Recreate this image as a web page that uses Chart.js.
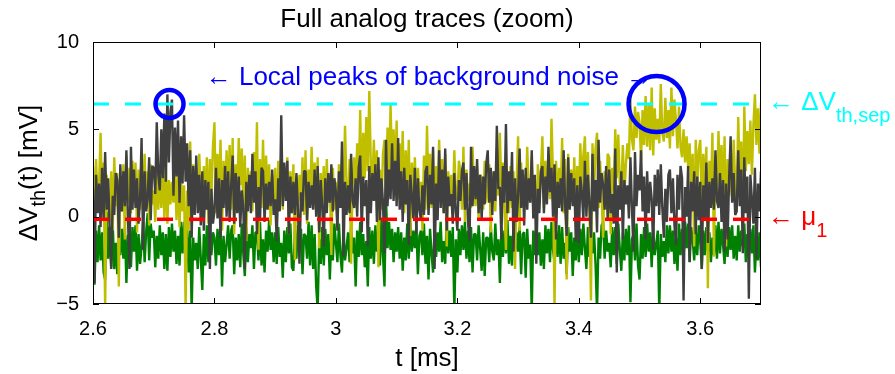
<!DOCTYPE html>
<html>
<head>
<meta charset="utf-8">
<title>Full analog traces (zoom)</title>
<script src="https://cdn.jsdelivr.net/npm/chart.js@4.4.1/dist/chart.umd.min.js"></script>
<style>
  html, body { margin: 0; padding: 0; background: #fff; }
  canvas { display: block; }
</style>
</head>
<body>
<canvas id="myChart" width="895" height="374"></canvas>
<script>
// sampled threshold traces, one value every 2.5 us starting at 2.6 ms
const tStart = 2.6;
const dt = 0.0025;

const greenTrace = [
  -1.8, -3.9, -0.8, -2.6, -0.5, -2.5, -0.9, -3.2, -3.6, 0.3, -2.4, -0.6, -2.9, -0.4, -3.0, -1.5, -3.3, 0.0, -2.2, -0.7,
  -2.4, -0.6, -3.8, -1.1, -1.0, -2.9, -0.6, -2.0, -0.5, -3.1, -1.0, -2.7, -1.7, -0.3, -2.6, -0.9, 0.2, -2.5, -0.4, -1.2,
  -0.8, -2.9, -1.1, -2.4, -0.5, -2.2, -0.9, -3.0, -1.0, -3.1, -0.6, -2.3, -0.4, -2.0, -0.8, -2.7, -1.1, -2.8, -0.3, -2.1,
  -0.3, -1.9, -0.7, -3.2, -0.8, -5.4, -1.2, -2.5, -1.5, -3.0, -0.6, -2.4, -4.2, -1.0, -2.8, -0.5, -2.6, -0.7, -2.2, -0.9,
  -1.2, -2.8, -0.7, -2.2, -0.4, -4.0, -1.1, -2.6, -1.6, -0.5, -2.4, -0.8, -0.5, -3.3, -1.2, -2.5, -1.0, -2.9, -0.4, -2.1,
  -3.4, -0.6, -2.6, -1.0, -1.8, -0.5, -3.0, -0.9, -0.9, -2.5, -0.3, -2.8, -1.3, -3.2, -0.8, -2.0, -0.2, -1.9, -0.9, -2.6,
  -0.9, -2.7, -0.6, -2.3, -1.5, -3.5, -0.8, -2.6, -0.6, -2.1, -0.4, -2.9, -3.1, -0.8, -2.4, -0.5, -1.9, -0.7, -3.3, -1.0,
  -1.1, -2.4, -0.3, -2.8, -0.5, -3.0, -1.0, -4.0, -5.3, -1.3, -2.7, -0.6, -2.8, -0.7, -2.2, -1.0, -3.6, -1.0, -2.5, -0.4,
  -1.5, -2.6, -0.4, -2.2, -3.2, -0.7, -2.5, -1.8, -0.9, -2.6, -0.5, -2.1, -1.2, -4.0, -0.8, -2.3, -0.3, -2.2, -1.0, -2.9,
  -1.4, -4.0, -0.6, -2.4, -0.8, -2.7, -0.5, -2.0, -1.6, -2.8, -0.1, -2.2, -4.0, 1.1, -1.8, -0.3, -1.9, -0.7, -2.6, -0.9,
  -2.0, -0.6, -2.4, -0.9, -3.1, -1.2, -2.5, -0.4, -2.4, -0.3, -2.0, -0.8, -1.8, -0.5, -3.3, -1.1, -0.8, -2.2, -0.4, -2.7,
  -1.1, -3.6, -0.7, -2.1, -3.2, -0.5, -2.3, -0.9, -2.0, -0.3, -2.6, -1.4, -2.7, -0.2, -2.1, -0.8, -2.3, -0.6, -5.4, -1.3,
  -3.2, -0.7, -2.2, -0.5, -1.9, -0.3, -2.4, -0.8, -2.6, -0.6, -3.2, -1.0, -1.0, -2.5, -0.5, -1.8, -3.1, -0.9, -3.4, -1.2,
  -1.2, -2.6, -0.5, -2.0, -2.5, -0.4, -2.2, -1.3, -3.8, -0.6, -2.3, -0.8, -2.1, -0.2, -2.7, -1.1, -2.8, -0.4, -2.0, -0.9,
  -2.0, -0.6, -3.3, -1.0, -0.9, -3.5, -0.7, -2.4, -1.6, -5.4, -0.8, -2.2, -0.4, -2.2, -0.9, -2.8, -1.3, -3.0, -0.5, -2.1,
  -0.7, -2.6, -0.3, -1.9, -2.6, -0.8, -2.3, -0.5, -2.7, -0.6, -2.4, -1.5, -3.3, -0.6, -2.0, -0.9, -3.4, -1.2, -2.5, -0.7,
  -2.6, -0.7, -2.2, -0.4, -1.8, -3.0, -0.6, -2.3, -0.5, -2.1, -0.9, -2.7, -5.4, -1.2, -2.4, -0.5, -0.3, -2.4, -0.8, -2.0,
  -1.5, -2.9, -0.6, -2.2, -0.6, -2.7, -0.4, -1.9, -3.1, -0.9, -2.5, -0.7, -2.2, -0.5, -4.9, -1.3, -1.0, -2.5, -0.4, -2.8,
  -3.6, -1.0, -2.4, -0.6, -2.3, -0.4, -2.0, -0.9, -2.9, -0.7, -2.2, -1.6, -0.8, -5.4, -1.0, -2.3, -1.4, -2.6, -0.5, -2.1,
  -0.5, -2.0, -0.8, -2.7, -1.2, -3.1, -0.4, -2.2, -0.7, -2.4, -0.3, -1.8, -0.4, -2.6, -0.6, -1.3, -2.5, -0.9, -2.2, -0.5,
  -1.4, -3.0, -0.8, -2.2, -0.6, -2.0, -0.9, -2.6, -1.2, -2.2, -0.5, -2.4, -0.3, -2.1, -0.7, -1.6, -2.7, -0.8, -2.3, -0.6,
  -1.9, -0.5, -2.4, -1.1, -2.5, -0.5, -2.0, -0.8, -1.7, -0.4, -2.6, -1.0, -2.3, -0.7, -2.1, -0.5, -3.2, -1.3, -2.5, -0.9,
  -2.9
];

const yellowTrace = [
  2.9, 0.5, 3.3, 1.0, 1.8, 4.8, 0.7, 3.1, -5.3, 2.4, 1.2, -0.3, 2.6, -0.8, 3.4, 0.6, 2.5, -4.0, 2.2, 0.3,
  3.0, -1.3, 3.5, 0.8, 2.8, 0.2, 3.2, 0.9, 3.1, -0.9, 2.7, 0.4, 2.4, 1.0, 3.6, 0.5, 2.6, -0.5, 3.0, 0.7,
  1.5, -0.3, 2.6, 0.4, 2.3, 0.5, 2.9, -0.1, 2.8, -0.4, 2.1, 0.7, 2.0, 0.8, 2.7, -0.2, 2.5, -0.6, 2.2, 0.3,
  1.8, -5.3, 1.5, -0.8, 4.3, 0.4, 3.0, 1.1, 2.2, 0.6, 3.6, 1.2, 0.3, 2.9, 0.8, 3.4, -0.4, 3.3, 1.1, 4.0,
  5.4, 0.2, 3.6, 1.3, 4.4, -0.8, 3.2, 0.9, 3.8, 1.0, 4.1, 0.4, 4.5, -1.0, 3.0, 1.2, 4.5, 1.8, 3.9, 0.6,
  3.5, -1.4, 2.8, 0.8, 2.6, 0.3, 3.7, 1.0, 5.4, -1.9, 3.3, 0.5, 4.4, 0.6, 3.5, 1.4, 3.0, -0.5, 2.4, 0.9,
  2.8, -0.5, 3.2, 0.7, 3.6, 0.4, 2.9, 1.1, 3.4, -1.0, 2.6, 0.2, 3.0, -2.5, 2.3, 0.5, 2.4, 0.9, 3.4, 0.1,
  3.8, -0.4, 2.7, 1.0, 4.0, 1.0, 3.1, 0.3, 3.4, -1.8, 2.5, 0.6, 2.9, 0.3, 3.3, 0.8, 2.2, -2.2, 2.8, 0.4,
  2.0, -0.6, 3.0, 0.9, 3.1, 1.4, 5.2, 1.8, 0.3, 3.3, -2.7, 2.0, 3.4, 1.1, 4.2, 1.9, 6.1, 0.5, 4.8, 2.2,
  5.7, 2.6, 7.2, 3.0, 1.6, 4.4, 1.2, 3.8, -2.9, 2.7, 0.4, 3.6, 4.4, 1.0, 5.1, 2.4, 6.4, 2.8, 5.0, 1.9,
  5.5, 1.0, 4.2, 2.0, 4.9, 0.2, 3.8, 1.2, 4.4, -1.1, 3.1, 0.9, 3.4, 0.6, 2.8, 1.3, 2.0, -0.8, 3.5, 0.4,
  5.2, 1.3, 3.6, 0.5, 3.8, -0.6, 2.9, 1.0, 4.4, 0.9, 3.3, 0.2, 3.6, -1.7, 2.6, 0.8, 2.4, 0.6, 3.8, 1.1,
  1.0, 3.2, 2.6, 0.4, 4.0, -0.3, 2.7, 0.9, 1.9, 0.5, 4.0, 1.3, 0.6, 2.9, -0.2, 2.4, 2.2, 0.4, 3.2, 0.8,
  1.4, 3.0, -0.9, 2.2, 2.6, 0.3, 3.1, 1.2, 4.8, 1.5, 3.1, 0.6, -1.9, 2.3, 0.2, 2.9, 0.5, 2.6, -3.0, 1.8,
  4.6, -0.8, 3.1, 0.9, 2.4, 0.6, 4.0, 1.5, 0.8, 3.4, 0.3, 2.2, -1.1, 3.0, 0.7, 2.5, 4.6, 0.5, 3.2, 1.2,
  2.8, 1.0, 5.6, 2.3, -5.3, 3.2, 0.6, 2.8, 1.0, 4.5, 0.2, 3.3, -3.6, 3.6, 0.9, 2.7, 0.7, 3.4, 0.4, 2.9,
  0.8, 4.2, 1.6, 3.5, 4.6, 1.0, 3.7, 0.3, -4.8, 4.2, 1.3, 3.9, 4.8, 0.5, 3.2, 1.1, -1.2, 2.6, 0.4, 3.6,
  3.4, -1.0, 2.8, 1.5, 5.0, 2.2, 4.7, 1.9, 1.6, 4.1, 1.2, 3.0, 4.2, 3.3, 6.9, 4.4, 3.8, 6.3, 4.5, 6.0,
  5.4, 3.2, 6.1, 4.1, 6.9, 4.0, 6.5, 3.8, 7.4, 3.5, 6.2, 4.4, 5.6, 4.2, 7.6, 4.8, 4.3, 6.8, 4.5, 6.1,
  3.9, 7.4, 4.6, 6.7, 5.5, 3.9, 6.3, 4.0, 3.4, 5.0, 3.1, 4.6, 2.8, 4.2, 1.4, 3.6, -1.7, 4.4, 1.6, 3.8,
  4.4, 0.8, 3.6, 1.5, 4.0, -4.1, 3.2, 0.9, 4.8, -2.3, 3.5, 1.1, 4.9, 1.6, 4.1, 0.7, 4.6, -1.7, 3.3, 1.2,
  3.4, 1.0, 4.4, 1.9, 0.9, 5.7, 2.1, 4.3, -1.3, 6.3, 2.6, 4.9, 3.0, 5.5, 2.4, 5.2, 7.0, 4.1, 6.2, 3.6,
  6.5
];

const grayTrace = [
  1.6, -3.8, 2.4, 0.2, 1.9, -0.6, 2.8, -0.2, 3.7, 0.4, 2.2, -0.8, -3.0, 1.2, 0.1, 2.5, 2.1, -1.2, 3.0, 0.3,
  2.6, 0.6, 3.8, 0.0, -3.0, 4.0, 0.4, 2.7, 0.5, 2.2, -0.4, 1.0, 4.5, -1.9, 2.6, 0.3, 1.0, 3.4, -0.2, 2.9,
  2.8, 1.3, 5.4, 2.4, 1.5, 5.0, 2.2, 5.9, 2.0, 7.0, 3.1, 6.0, 6.7, 1.2, 5.1, 2.3, 5.5, 0.8, 4.6, 1.9,
  5.8, 2.0, 4.2, 0.6, 3.8, -1.2, 2.9, 0.1, 3.5, 0.2, 2.4, -0.5, 2.6, -0.8, 2.1, 0.4, 2.0, -3.0, 1.6, -0.4,
  0.3, 2.8, -0.1, 2.2, -1.2, 2.1, 0.5, 2.9, 0.0, 2.6, -0.3, 1.8, 3.5, -0.4, 2.5, 0.2, 2.3, -0.6, 1.5, 0.5,
  -3.0, 2.0, 0.3, 2.4, 0.2, 3.6, 0.8, 2.6, -1.0, 1.7, -0.2, 2.8, 2.6, -0.3, 1.9, 0.4, 2.0, 0.6, 2.7, 0.1,
  1.0, -1.4, 2.2, 0.3, 5.8, 0.6, 3.1, 0.9, 3.2, -1.0, 2.3, 0.2, 2.0, 0.1, 2.5, 0.4, -2.7, 1.4, 0.3, 2.6,
  2.6, -0.2, 2.0, 0.5, 1.8, 0.4, 2.7, 0.0, 2.9, -0.9, 2.1, 0.6, -1.7, 2.2, 0.2, 2.5, 0.8, 3.0, 0.3, 2.2,
  1.4, -0.8, 2.6, 0.5, 4.3, -2.3, 2.0, 0.1, 1.8, 0.2, 3.6, 0.9, 0.5, 2.2, 0.0, 2.8, 3.5, -0.9, 2.3, 0.6,
  2.1, -1.7, 2.9, 0.2, 2.5, 0.9, 3.0, -0.3, 3.4, -0.2, 2.2, 0.8, -2.1, 4.4, 0.6, 2.7, 1.0, 4.2, 0.9, 3.2,
  0.6, 4.5, 0.4, 2.6, -0.3, 2.8, 0.7, 2.1, -1.6, 2.4, 1.2, -0.1, 2.8, -1.0, 2.2, 0.4, -0.2, 1.8, 0.1, 2.6,
  2.9, 0.1, 2.4, 0.7, 4.0, -3.0, 1.9, -0.2, 3.8, 0.5, 2.7, 0.2, 3.9, -0.8, 2.3, 0.6, 1.3, -0.4, 2.5, 0.3,
  -0.8, 2.1, 0.9, 2.6, 3.1, 0.4, 2.5, -0.3, -1.4, 4.0, 0.6, 2.9, 1.0, 3.3, 0.2, 2.4, -0.2, 2.3, 0.7, 3.0,
  3.8, 0.8, 2.8, 0.1, 2.6, 0.9, 5.2, 1.6, 1.7, -1.3, 2.9, 0.8, 5.3, 0.2, 2.6, 0.9, 3.7, -2.0, 2.2, -0.3,
  1.2, 3.9, 0.5, 2.7, -0.5, 2.8, 0.4, 2.2, 0.8, 3.8, -0.1, 2.4, -2.7, 1.6, 0.2, 2.6, 2.9, 0.2, 2.3, 0.7,
  4.0, 1.4, 2.8, 0.0, 3.0, -1.3, 2.0, 0.5, 2.2, 0.3, 3.8, 0.6, -1.1, 3.4, 0.4, 2.5, 0.6, 2.2, -1.4, 1.8,
  -1.5, 2.3, 1.4, -0.2, 3.2, 0.0, 2.4, 0.6, -1.2, 3.6, 0.3, 2.1, -0.9, 4.4, 0.8, 2.5, 1.8, 0.4, 2.9, -0.2,
  2.7, 0.2, 1.3, -0.4, 3.9, -3.2, 1.8, 0.4, 2.6, -1.3, 2.1, 0.7, 1.8, -0.1, 3.4, 0.5, -2.0, 3.7, 0.6, 2.4,
  1.5, 3.8, 0.3, 2.3, -1.3, 2.6, 0.2, 2.0, 1.0, -1.9, 2.4, 0.6, 2.7, 0.1, 3.0, 0.5, -1.2, 1.6, -0.3, 2.4,
  2.7, 0.2, 2.2, -0.5, -1.6, 2.4, 0.4, 2.9, 2.2, -4.8, 1.7, 0.0, 2.9, -2.6, 2.0, 0.3, 2.6, -1.0, 2.3, -0.2,
  2.0, -3.0, 1.8, -0.2, 3.1, -1.5, 2.0, 0.5, 2.2, 0.4, 3.8, 0.9, 0.5, 2.5, -0.3, 2.1, -2.0, 1.9, -1.3, 2.2,
  4.6, 0.8, 2.5, 0.1, 0.3, 3.8, 0.6, 2.7, -2.1, 3.4, 0.2, 2.3, -4.7, 2.4, 1.0, -0.4, 2.8, -2.4, 1.9, 0.3,
  2.6
];

// threshold separation level and mean of the first population (mV)
const dVthSep = 6.45;
const mu1 = -0.15;

// local noise peaks that get circled
const peakTimes = [2.726, 3.528];
const peakValues = [6.45, 6.45];

const xTicks = [2.6, 2.8, 3.0, 3.2, 3.4, 3.6];
const xTickLabels = ["2.6", "2.8", "3", "3.2", "3.4", "3.6"];
const yTicks = [-5, 0, 5, 10];
const yTickLabels = ["\u22125", "0", "5", "10"];

const FONT = '"Liberation Sans", Arial, Helvetica, sans-serif';
const TRACE_WIDTH = 2.4;

function toPoints(values) {
  return values.map((v, i) => ({ x: tStart + i * dt, y: v }));
}

// draws a run of [text, size, dy] pieces left to right, returns the width
function richText(ctx, x, y, parts, measureOnly) {
  let cx = x;
  for (const [text, size, dy] of parts) {
    ctx.font = size + "px " + FONT;
    if (!measureOnly) ctx.fillText(text, cx, y + dy);
    cx += ctx.measureText(text).width;
  }
  return cx - x;
}

const decorations = {
  id: "decorations",
  afterDatasetsDraw(chart) {
    const { ctx, chartArea: a, scales } = chart;
    const x = scales.x;
    const y = scales.y;
    ctx.save();

    // axes box with inward ticks
    ctx.strokeStyle = "#000";
    ctx.lineWidth = 1;
    ctx.strokeRect(a.left + 0.5, a.top + 0.5, a.width - 1, a.height - 1);
    ctx.beginPath();
    xTicks.forEach((v) => {
      const px = Math.round(x.getPixelForValue(v)) + 0.5;
      ctx.moveTo(px, a.bottom);
      ctx.lineTo(px, a.bottom - 6);
      ctx.moveTo(px, a.top);
      ctx.lineTo(px, a.top + 6);
    });
    yTicks.forEach((v) => {
      const py = Math.round(y.getPixelForValue(v)) + 0.5;
      ctx.moveTo(a.left, py);
      ctx.lineTo(a.left + 6, py);
      ctx.moveTo(a.right, py);
      ctx.lineTo(a.right - 6, py);
    });
    ctx.stroke();

    ctx.textBaseline = "alphabetic";
    ctx.textAlign = "left";

    // y axis label, rotated
    const yParts = [["\u0394V", 26, 0], ["th", 20, 8], ["(t) [mV]", 26, 0]];
    ctx.save();
    ctx.translate(37, (a.top + a.bottom) / 2);
    ctx.rotate(-Math.PI / 2);
    ctx.fillStyle = "#000";
    const yw = richText(ctx, 0, 0, yParts, true);
    richText(ctx, -yw / 2, 0, yParts);
    ctx.restore();

    // annotation over the peaks
    ctx.fillStyle = "#0000ff";
    ctx.font = "26px " + FONT;
    const note = "\u2190 Local peaks of background noise \u2192";
    const nw = ctx.measureText(note).width;
    ctx.fillText(note, (a.left + a.right) / 2 - nw / 2 + 2, y.getPixelForValue(7.55));

    // level labels on the right
    const lx = a.right + 7;
    ctx.fillStyle = "#00ffff";
    richText(ctx, lx, y.getPixelForValue(dVthSep) + 6, [["\u2190 \u0394V", 26, 0], ["th,sep", 20, 12]]);
    ctx.fillStyle = "#ff0000";
    richText(ctx, lx, y.getPixelForValue(mu1) + 6, [["\u2190 \u03bc", 26, 0], ["1", 20, 12]]);

    ctx.restore();
  },
};

function trace(label, values, color) {
  return {
    label: label,
    data: toPoints(values),
    borderColor: color,
    borderWidth: TRACE_WIDTH,
    borderJoinStyle: "bevel",
    pointRadius: 0,
    clip: 0,
  };
}

const ctx = document.getElementById("myChart");

const config = {
  type: "line",
  data: {
    datasets: [
      {
        label: "peaks",
        data: peakTimes.map((t, i) => ({ x: t, y: peakValues[i] })),
        showLine: false,
        pointRadius: [14, 28],
        pointBorderWidth: 4.5,
        pointBorderColor: "#0000ff",
        pointBackgroundColor: "rgba(0,0,0,0)",
        clip: false,
      },
      {
        label: "mu1",
        data: [{ x: 2.6, y: mu1 }, { x: 3.7, y: mu1 }],
        borderColor: "#ff0000",
        borderWidth: 3.5,
        borderDash: [16, 16],
        pointRadius: 0,
      },
      {
        label: "dVthSep",
        data: [{ x: 2.6, y: dVthSep }, { x: 3.7, y: dVthSep }],
        borderColor: "#00ffff",
        borderWidth: 3,
        borderDash: [16, 16],
        pointRadius: 0,
      },
      trace("gray", grayTrace, "#404040"),
      trace("yellow", yellowTrace, "#bfbf00"),
      trace("green", greenTrace, "#008000"),
    ],
  },
  options: {
    responsive: false,
    devicePixelRatio: 1,
    animation: false,
    events: [],
    elements: { line: { tension: 0 } },
    layout: { padding: { left: 0, right: 134, top: 0, bottom: 0 } },
    plugins: {
      legend: { display: false },
      tooltip: { enabled: false },
      title: {
        display: true,
        fullSize: false,
        text: "Full analog traces (zoom)",
        color: "#000",
        font: { family: FONT, size: 26, weight: "normal", lineHeight: 1.2 },
        padding: { top: 4, bottom: 6.8 },
      },
    },
    scales: {
      x: {
        type: "linear",
        min: 2.6,
        max: 3.7,
        grid: { display: false },
        border: { display: false },
        afterBuildTicks: (s) => { s.ticks = xTicks.map((v) => ({ value: v })); },
        afterFit: (s) => { s.height = 70; },
        ticks: {
          color: "#000",
          font: { family: FONT, size: 20 },
          padding: 5,
          maxRotation: 0,
          autoSkip: false,
          callback: (v, i) => xTickLabels[i],
        },
        title: {
          display: true,
          text: "t [ms]",
          color: "#000",
          font: { family: FONT, size: 26, lineHeight: 1.2 },
          padding: { top: 5, bottom: 0 },
        },
      },
      y: {
        type: "linear",
        min: -5,
        max: 10,
        grid: { display: false },
        border: { display: false },
        afterBuildTicks: (s) => { s.ticks = yTicks.map((v) => ({ value: v })); },
        afterFit: (s) => { s.width = 93; },
        ticks: {
          color: "#000",
          font: { family: FONT, size: 20 },
          padding: 6,
          autoSkip: false,
          callback: (v, i) => yTickLabels[i],
        },
      },
    },
  },
  plugins: [decorations],
};

const myChart = new Chart(ctx, config);
</script>
</body>
</html>
